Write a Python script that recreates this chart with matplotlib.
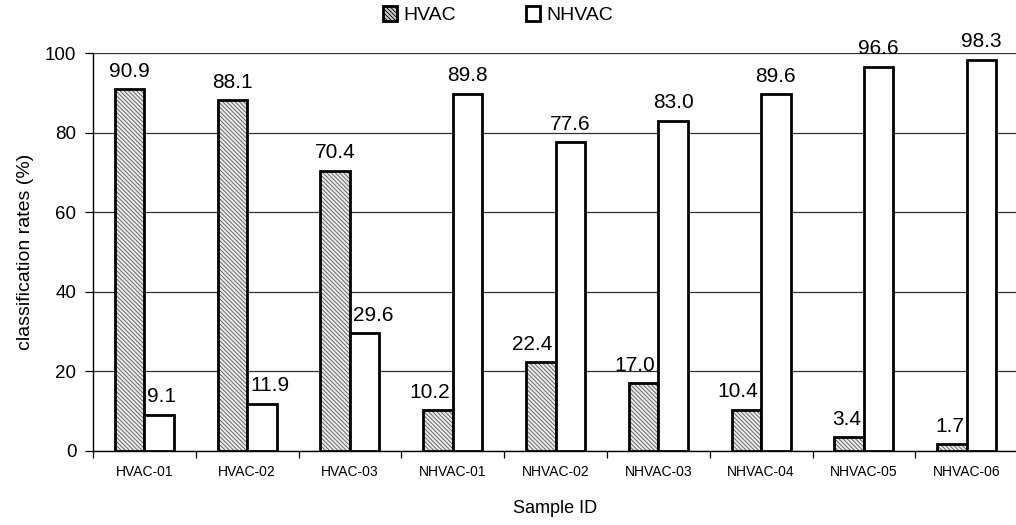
import numpy as np
import matplotlib
matplotlib.use('Agg')
import matplotlib.pyplot as plt
from matplotlib.patches import Patch

plt.rcParams['font.family'] = ['Liberation Sans', 'DejaVu Sans']
plt.rcParams['hatch.linewidth'] = 0.6

samples = ['HVAC-01', 'HVAC-02', 'HVAC-03', 'NHVAC-01', 'NHVAC-02',
           'NHVAC-03', 'NHVAC-04', 'NHVAC-05', 'NHVAC-06']
hvac = [90.9, 88.1, 70.4, 10.2, 22.4, 17.0, 10.4, 3.4, 1.7]
nhvac = [9.1, 11.9, 29.6, 89.8, 77.6, 83.0, 89.6, 96.6, 98.3]

fig = plt.figure(figsize=(10.16, 5.25), dpi=100)
ax = fig.add_axes([0.0915, 0.141, 0.9106, 0.758])

x = np.arange(len(samples))
w = 0.287
hatch = '\\' * 8

# hatched fill first, then outline on top so the hatch stays grey
ax.bar(x - w / 2, hvac, w, color='#e8e8e8', edgecolor='#5a5a5a',
       hatch=hatch, linewidth=0, zorder=3)
ax.bar(x - w / 2, hvac, w, fill=False, edgecolor='black', linewidth=2, zorder=4)
ax.bar(x + w / 2, nhvac, w, color='white', edgecolor='black', linewidth=2, zorder=4)

lab = dict(fontsize=15, va='bottom', textcoords='offset points', zorder=5)
for i in range(len(samples)):
    a, b = hvac[i], nhvac[i]
    if a >= b:
        ax.annotate(f'{a:.1f}', (x[i] - w / 2, a), xytext=(0, 6), ha='center', **lab)
        ax.annotate(f'{b:.1f}', (x[i], b), xytext=(2, 6), ha='left', **lab)
    else:
        ax.annotate(f'{a:.1f}', (x[i], a), xytext=(-2, 6), ha='right', **lab)
        ax.annotate(f'{b:.1f}', (x[i] + w / 2, b), xytext=(0, 6), ha='center', **lab)

ax.set_xlim(-0.5, len(samples) - 0.5)
ax.set_ylim(0, 100)
ax.set_yticks(range(0, 101, 20))
ax.yaxis.grid(True, color='#303030', linewidth=0.9)
ax.set_axisbelow(True)

ax.set_xticks(x)
ax.set_xticklabels(samples, fontsize=10)
ax.set_xticks(np.arange(-0.5, len(samples)), minor=True)
ax.tick_params(axis='x', which='major', length=0, pad=10)
ax.tick_params(axis='x', which='minor', length=5, width=0.9, direction='out')
ax.tick_params(axis='y', labelsize=13.5, length=6, width=0.9, direction='out', pad=6)

for s in ['top', 'right']:
    ax.spines[s].set_visible(False)
for s in ['left', 'bottom']:
    ax.spines[s].set_linewidth(1.0)
    ax.spines[s].set_color('black')

ax.set_xlabel('Sample ID', fontsize=13, labelpad=15)
ax.set_ylabel('classification rates (%)', fontsize=14, labelpad=8)

handles = [Patch(facecolor='#c8c8c8', edgecolor='black', hatch=hatch, linewidth=2),
           Patch(facecolor='white', edgecolor='black', linewidth=2)]
fig.legend(handles, ['HVAC', 'NHVAC'], loc='center', bbox_to_anchor=(0.49, 0.971),
           ncol=2, frameon=False, fontsize=14, handlelength=0.75, handleheight=0.75,
           handletextpad=0.3, columnspacing=3.6)

fig.savefig('out.png', dpi=100)
